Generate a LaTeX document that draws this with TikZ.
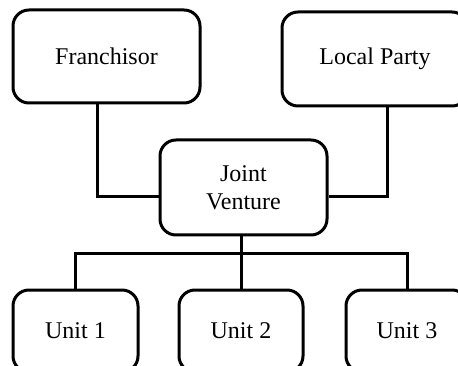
\documentclass[tikz,border=0pt]{standalone}
\usepackage{fontspec}
\setmainfont{Liberation Serif}
\usetikzlibrary{calc}
\begin{document}
\begin{tikzpicture}[x=1pt,y=-1pt,
  box/.style={draw,line width=3pt,rounded corners=16pt,align=center,
    font=\fontsize{24}{28}\selectfont,inner sep=0pt},
  link/.style={line width=3pt}]
  \useasboundingbox (0,0) rectangle (458,366);
  \fill[white] (0,0) rectangle (458,366);
  \clip (0,0) rectangle (458,366);

  % parties
  \node[box,minimum width=187pt,minimum height=93pt] (fr) at (106.5,56.5) {Franchisor};
  \node[box,minimum width=186pt,minimum height=94pt] (lp) at (375,59) {Local Party};

  % joint venture
  \node[box,minimum width=167pt,minimum height=95pt] (jv) at (243.5,187.5) {Joint\\Venture};

  % units
  \node[box,minimum width=125pt,minimum height=82pt] (u1) at (75.5,331) {Unit 1};
  \node[box,minimum width=124pt,minimum height=82pt] (u2) at (241,331) {Unit 2};
  \node[box,minimum width=122pt,minimum height=82pt] (u3) at (407,331) {Unit 3};

  % connector anchors
  \coordinate (fdrop) at (97,0);
  \coordinate (ldrop) at (387,0);
  \coordinate (bus) at (0,254);

  \draw[link] (fdrop |- fr.south) |- ($(jv.west)+(0,9)$);
  \draw[link] (ldrop |- lp.south) |- ($(jv.east)+(0,9)$);
  \draw[link] (jv.south -| u2.north) -- (u2.north);
  \draw[link] (u1.north) -- (u1.north |- bus) -- (u3.north |- bus) -- (u3.north);
\end{tikzpicture}
\end{document}
